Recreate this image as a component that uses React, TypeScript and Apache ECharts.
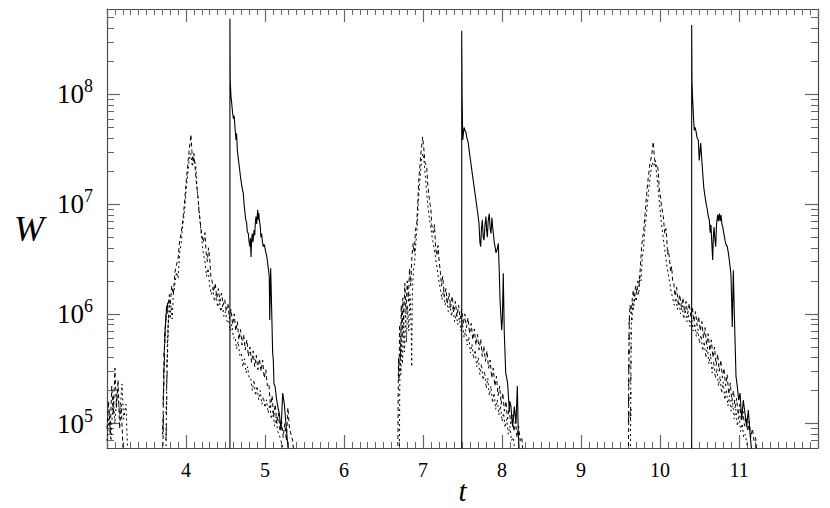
import React, { useEffect, useRef } from "react";
import * as echarts from "echarts";

// ---- data: [t, W] pairs ----
const solidEvent1: [number, number][] = [
  [4.556, 3e4], [4.556, 4.9e8], [4.56, 1.3e8], [4.57, 9.5e7], [4.578, 8.4e7], [4.591, 6.7e7], [4.6, 6.0e7], [4.61, 6.4e7],
  [4.62, 5.0e7], [4.633, 3.84e7], [4.64, 4.4e7], [4.65, 3.1e7], [4.662, 2.6e7], [4.675, 2.19e7], [4.692, 1.72e7], [4.705, 1.5e7],
  [4.715, 1.35e7], [4.725, 1.26e7], [4.735, 1.0e7], [4.747, 8.3e6], [4.755, 7.3e6], [4.768, 6.7e6], [4.776, 5.6e6], [4.789, 5.4e6],
  [4.797, 4.6e6], [4.81, 4.1e6], [4.816, 4.9e6], [4.823, 3.3e6], [4.83, 4.6e6], [4.839, 5.4e6], [4.848, 4.5e6], [4.861, 5.8e6],
  [4.87, 5.2e6], [4.878, 6.8e6], [4.886, 7.7e6], [4.895, 6.6e6], [4.908, 8.9e6], [4.915, 7.2e6], [4.921, 8.3e6], [4.928, 7.2e6],
  [4.94, 6.3e6], [4.948, 5.0e6], [4.958, 5.4e6], [4.966, 4.6e6], [4.978, 4.1e6], [4.99, 4.3e6], [5.009, 3.7e6], [5.02, 3.4e6],
  [5.029, 3.1e6], [5.042, 2.6e6], [5.054, 2.2e6], [5.06, 8.8e5], [5.072, 2.6e6], [5.08, 1.5e6], [5.097, 4.4e5], [5.105, 3.8e5],
  [5.114, 2.3e5], [5.127, 2.2e5], [5.148, 1.64e5], [5.165, 1.4e5], [5.181, 1.24e5], [5.203, 8.7e4], [5.224, 1.9e5], [5.245, 1.5e5],
  [5.26, 1.1e5], [5.275, 8.2e4], [5.296, 5.5e4],
];
const solidEvent2: [number, number][] = [
  [7.49, 3e4], [7.49, 3.8e8], [7.495, 1.0e8], [7.503, 3.84e7], [7.52, 5.0e7], [7.532, 4.7e7], [7.545, 4.5e7], [7.553, 4.1e7],
  [7.573, 3.6e7], [7.595, 2.7e7], [7.629, 1.78e7], [7.658, 1.26e7], [7.687, 8.9e6], [7.709, 6.7e6], [7.72, 4.5e6], [7.73, 4.1e6],
  [7.74, 6.0e6], [7.751, 7.2e6], [7.762, 5.0e6], [7.772, 4.7e6], [7.785, 6.5e6], [7.797, 7.7e6], [7.805, 5.8e6], [7.814, 5.0e6],
  [7.825, 7.0e6], [7.839, 8.2e6], [7.85, 6.0e6], [7.861, 5.4e6], [7.872, 7.5e6], [7.882, 6.2e6], [7.893, 5.2e6], [7.903, 4.4e6],
  [7.915, 4.0e6], [7.924, 3.6e6], [7.94, 3.9e6], [7.953, 4.4e6], [7.965, 2.5e6], [7.975, 1.34e6], [7.996, 7.1e5], [8.005, 9e5],
  [8.016, 2.34e6], [8.029, 6.7e5], [8.047, 2.9e5], [8.06, 2.6e5], [8.072, 2.3e5], [8.092, 1.33e5], [8.1, 1.6e5], [8.114, 1.43e5],
  [8.125, 1.1e5], [8.135, 9.4e4], [8.156, 1.43e5], [8.177, 1.0e5], [8.194, 2.2e5], [8.206, 8.2e4], [8.219, 5.5e4],
];
const solidEvent3: [number, number][] = [
  [10.401, 3e4], [10.401, 4.3e8], [10.405, 1.3e8], [10.414, 8.9e7], [10.425, 6e7], [10.434, 4.7e7], [10.445, 5.0e7], [10.456, 4.6e7],
  [10.47, 4.0e7], [10.485, 3.84e7], [10.497, 2.5e7], [10.515, 3.6e7], [10.528, 2.6e7], [10.541, 1.9e7], [10.555, 1.4e7], [10.57, 1.17e7],
  [10.585, 1.0e7], [10.599, 8.9e6], [10.61, 7.8e6], [10.624, 7.2e6], [10.635, 5.5e6], [10.645, 6.5e6], [10.654, 4.7e6], [10.667, 3.1e6],
  [10.675, 5.0e6], [10.684, 6.2e6], [10.693, 5.0e6], [10.705, 4.1e6], [10.715, 6.5e6], [10.73, 8.0e6], [10.74, 7.0e6], [10.751, 8.2e6],
  [10.762, 7.0e6], [10.772, 8.0e6], [10.785, 6.5e6], [10.794, 6.2e6], [10.81, 5.3e6], [10.823, 4.7e6], [10.835, 4.3e6], [10.852, 4.1e6],
  [10.865, 3.6e6], [10.877, 3.1e6], [10.89, 2.6e6], [10.899, 2.2e6], [10.915, 7.6e5], [10.928, 2.5e6], [10.941, 1.0e6], [10.962, 2.7e5],
  [10.978, 2.2e5], [10.996, 1.64e5], [11.013, 1.9e5], [11.034, 1.08e5], [11.054, 1.64e5], [11.076, 1.24e5], [11.097, 9.4e4], [11.118, 1.33e5],
  [11.139, 8.2e4], [11.161, 5.5e4],
];

const dashedBump: [number, number][] = [
  [3.0, 9e4], [3.02, 1.6e5], [3.04, 8e4], [3.06, 2.2e5], [3.08, 1.2e5], [3.1, 3.2e5], [3.12, 1.4e5], [3.14, 2.5e5],
  [3.16, 9e4], [3.18, 1.5e5], [3.2, 6.5e4], [3.22, 3e4],
];
const dottedBump: [number, number][] = [
  [3.0, 7e4], [3.03, 1.3e5], [3.05, 7e4], [3.08, 1.8e5], [3.1, 1e5], [3.13, 2.1e5], [3.16, 1.2e5], [3.19, 2.3e5],
  [3.21, 1.1e5], [3.24, 1.5e5], [3.26, 6e4], [3.28, 3e4],
];

const dashedEvent1: [number, number][] = [
  [3.70, 3e4], [3.715, 1.2e5], [3.705, 8e4], [3.72, 2.5e5], [3.71, 1.5e5], [3.728, 4e5], [3.715, 2.6e5], [3.735, 6.5e5],
  [3.72, 4e5], [3.745, 9e5], [3.728, 6e5], [3.755, 1.2e6], [3.74, 8e5], [3.77, 1.3e6], [3.76, 1.0e6], [3.79, 1.5e6],
  [3.8, 1.2e6], [3.82, 1.8e6], [3.84, 1.5e6], [3.86, 2.4e6], [3.88, 2.8e6], [3.9, 3.2e6], [3.92, 4.7e6], [3.94, 5.5e6],
  [3.96, 7.2e6], [3.98, 1.0e7], [4.0, 1.55e7], [4.02, 2.2e7], [4.04, 3.1e7], [4.063, 4.3e7], [4.075, 3.0e7], [4.09, 2.4e7],
  [4.1, 2.9e7], [4.115, 2.2e7], [4.13, 1.6e7], [4.15, 1.2e7], [4.165, 8.5e6], [4.18, 7.0e6], [4.2, 5.2e6], [4.22, 4.5e6],
  [4.24, 5.5e6], [4.255, 3.6e6], [4.27, 3.0e6], [4.285, 4.0e6], [4.3, 3.2e6], [4.315, 2.2e6], [4.33, 2.0e6], [4.35, 1.6e6],
  [4.37, 1.9e6], [4.39, 1.4e6], [4.41, 1.7e6], [4.43, 1.3e6], [4.45, 1.55e6], [4.47, 1.2e6], [4.49, 1.35e6], [4.51, 1.05e6],
  [4.53, 1.25e6], [4.55, 9e5], [4.57, 1.1e6], [4.59, 8e5], [4.61, 1.0e6], [4.63, 7e5], [4.65, 8.5e5], [4.67, 5.8e5],
  [4.69, 7.2e5], [4.71, 5.2e5], [4.73, 6.5e5], [4.75, 4.7e5], [4.77, 5.8e5], [4.79, 4.1e5], [4.81, 5.0e5], [4.83, 3.6e5],
  [4.85, 4.6e5], [4.87, 3.3e5], [4.89, 4.2e5], [4.91, 3.1e5], [4.93, 3.9e5], [4.95, 3.0e5], [4.97, 3.8e5], [4.99, 2.6e5],
  [5.01, 3.1e5], [5.03, 2.2e5], [5.05, 2.3e5], [5.07, 1.4e5], [5.09, 1.8e5], [5.11, 1.15e5], [5.13, 1.5e5], [5.15, 1.0e5],
  [5.17, 1.25e5], [5.19, 8.5e4], [5.21, 1.05e5], [5.23, 7.5e4], [5.25, 1.0e5], [5.27, 7e4], [5.29, 1.4e5], [5.31, 9e4],
  [5.33, 8e4], [5.35, 7e4], [5.37, 5e4],
];
const dottedEvent1: [number, number][] = [
  [3.74, 3e4], [3.752, 1.0e5], [3.745, 7e4], [3.758, 1.8e5], [3.748, 1.2e5], [3.762, 3.0e5], [3.752, 2.0e5], [3.768, 4.8e5],
  [3.757, 3.2e5], [3.775, 7e5], [3.762, 5e5], [3.782, 1.0e6], [3.77, 7e5], [3.79, 1.3e6], [3.8, 9e5], [3.81, 1.2e6],
  [3.825, 9e5], [3.84, 1.5e6], [3.86, 1.9e6], [3.88, 2.4e6], [3.9, 2.1e6], [3.92, 3.6e6], [3.94, 4.5e6], [3.96, 6.5e6],
  [3.98, 8.5e6], [4.0, 1.3e7], [4.02, 1.8e7], [4.04, 2.5e7], [4.06, 2.9e7], [4.08, 2.2e7], [4.1, 2.6e7], [4.125, 2.2e7],
  [4.14, 1.4e7], [4.16, 1.0e7], [4.18, 6.5e6], [4.2, 4.8e6], [4.22, 3.5e6], [4.24, 3.0e6], [4.26, 2.2e6], [4.28, 2.6e6],
  [4.3, 1.8e6], [4.32, 1.5e6], [4.34, 1.7e6], [4.36, 1.3e6], [4.38, 1.5e6], [4.4, 1.15e6], [4.42, 1.35e6], [4.44, 1.05e6],
  [4.46, 1.2e6], [4.48, 9.5e5], [4.5, 1.05e6], [4.52, 8.5e5], [4.54, 8.8e5], [4.56, 7e5], [4.58, 8e5], [4.6, 6.0e5],
  [4.62, 6.2e5], [4.64, 4.8e5], [4.66, 5.6e5], [4.68, 4.2e5], [4.7, 4.4e5], [4.72, 3.3e5], [4.74, 3.9e5], [4.76, 2.9e5],
  [4.78, 3.3e5], [4.8, 2.6e5], [4.82, 2.6e5], [4.84, 2.0e5], [4.86, 2.5e5], [4.88, 1.8e5], [4.9, 2.2e5], [4.92, 1.65e5],
  [4.94, 2.0e5], [4.96, 1.5e5], [4.98, 1.75e5], [5.0, 1.4e5], [5.02, 1.65e5], [5.04, 1.25e5], [5.06, 1.5e5], [5.08, 1.1e5],
  [5.1, 1.3e5], [5.12, 9.5e4], [5.14, 1.15e5], [5.16, 8.5e4], [5.18, 8e4], [5.2, 7e4], [5.22, 6.5e4], [5.24, 4e4],
];

const dashedEvent2: [number, number][] = [
  [6.68, 3e4], [6.685, 1.5e5], [6.69, 4e5], [6.695, 2.5e5], [6.705, 8e5], [6.715, 4e5], [6.725, 1.2e6], [6.735, 6e5],
  [6.745, 1.4e6], [6.755, 8e5], [6.77, 1.9e6], [6.785, 1.0e6], [6.8, 2.0e6], [6.815, 1.3e6], [6.83, 2.6e6], [6.845, 1.8e6],
  [6.86, 3.4e6], [6.875, 4.4e6], [6.89, 3.6e6], [6.905, 5.8e6], [6.92, 6.5e6], [6.93, 9e6], [6.945, 1.6e7], [6.96, 2.2e7],
  [6.975, 3.0e7], [6.996, 4.1e7], [7.01, 3.2e7], [7.025, 2.4e7], [7.047, 2.2e7], [7.06, 1.5e7], [7.075, 1.2e7], [7.089, 1.0e7],
  [7.1, 9e6], [7.11, 6.5e6], [7.13, 5.5e6], [7.145, 6.5e6], [7.16, 4.0e6], [7.175, 3.4e6], [7.19, 4.2e6], [7.205, 3.0e6],
  [7.22, 2.4e6], [7.235, 1.8e6], [7.25, 2.2e6], [7.27, 1.45e6], [7.29, 1.7e6], [7.31, 1.25e6], [7.33, 1.55e6], [7.35, 1.15e6],
  [7.37, 1.45e6], [7.39, 1.05e6], [7.41, 1.3e6], [7.43, 9.5e5], [7.45, 1.2e6], [7.47, 9e5], [7.49, 1.1e6], [7.51, 8e5],
  [7.53, 1.0e6], [7.55, 7.5e5], [7.57, 9.2e5], [7.59, 6.6e5], [7.61, 8.2e5], [7.63, 5.8e5], [7.65, 7.3e5], [7.67, 5.2e5],
  [7.69, 6.5e5], [7.71, 4.7e5], [7.73, 5.9e5], [7.75, 4.1e5], [7.77, 5.1e5], [7.79, 3.7e5], [7.81, 4.6e5], [7.83, 3.2e5],
  [7.85, 3.8e5], [7.87, 2.6e5], [7.89, 3.2e5], [7.91, 2.2e5], [7.93, 2.7e5], [7.95, 1.8e5], [7.97, 2.2e5], [7.99, 1.5e5],
  [8.01, 1.9e5], [8.03, 1.3e5], [8.05, 1.6e5], [8.07, 1.1e5], [8.09, 1.4e5], [8.11, 1.0e5], [8.13, 1.2e5], [8.15, 8.5e4],
  [8.17, 1.05e5], [8.19, 7.5e4], [8.21, 9.5e4], [8.23, 7e4], [8.25, 7.5e4], [8.27, 5e4],
];
const dottedEvent2: [number, number][] = [
  [6.70, 3e4], [6.705, 1.8e5], [6.71, 4.5e5], [6.72, 2.8e5], [6.73, 6e5], [6.74, 3.5e5], [6.755, 8e5], [6.765, 4.5e5],
  [6.78, 1.0e6], [6.79, 5.5e5], [6.805, 1.2e6], [6.82, 7e5], [6.835, 1.5e6], [6.85, 8e5], [6.857, 3.3e5], [6.865, 1.6e6],
  [6.88, 2.5e6], [6.895, 3.0e6], [6.91, 4.5e6], [6.925, 6.0e6], [6.94, 1.0e7], [6.955, 1.5e7], [6.97, 2.0e7], [6.985, 2.6e7],
  [7.0, 2.9e7], [7.015, 2.4e7], [7.03, 1.8e7], [7.045, 1.3e7], [7.06, 1.0e7], [7.08, 7.5e6], [7.1, 6.0e6], [7.12, 4.8e6],
  [7.14, 4.0e6], [7.16, 3.2e6], [7.18, 2.6e6], [7.2, 2.0e6], [7.22, 1.7e6], [7.24, 1.35e6], [7.26, 1.65e6], [7.28, 1.2e6],
  [7.3, 1.4e6], [7.32, 1.05e6], [7.34, 1.25e6], [7.36, 9.5e5], [7.38, 1.15e6], [7.4, 8.5e5], [7.42, 1.0e6], [7.44, 8e5],
  [7.46, 9.2e5], [7.48, 7e5], [7.5, 8.2e5], [7.52, 6.1e5], [7.54, 7.2e5], [7.56, 5.2e5], [7.58, 6.2e5], [7.6, 4.4e5],
  [7.62, 5.3e5], [7.64, 3.9e5], [7.66, 4.7e5], [7.68, 3.3e5], [7.7, 4.0e5], [7.72, 2.8e5], [7.74, 3.5e5], [7.76, 2.5e5],
  [7.78, 3.0e5], [7.8, 2.1e5], [7.82, 2.6e5], [7.84, 1.8e5], [7.86, 2.2e5], [7.88, 1.55e5], [7.9, 1.9e5], [7.92, 1.35e5],
  [7.94, 1.65e5], [7.96, 1.2e5], [7.98, 1.45e5], [8.0, 1.05e5], [8.02, 1.25e5], [8.04, 9.2e4], [8.06, 1.1e5], [8.08, 8e4],
  [8.1, 9.5e4], [8.12, 7e4], [8.14, 7.5e4], [8.16, 6e4], [8.18, 4e4],
];

const dashedEvent3: [number, number][] = [
  [9.6, 3e4], [9.602, 8e4], [9.606, 1.3e5], [9.6, 1.0e5], [9.606, 1.8e5], [9.601, 1.5e5], [9.607, 2.5e5], [9.602, 2.2e5],
  [9.608, 3.5e5], [9.603, 3.0e5], [9.609, 4.8e5], [9.604, 4.2e5], [9.611, 6.5e5], [9.606, 5.8e5], [9.613, 9e5], [9.609, 8e5],
  [9.62, 1.2e6], [9.635, 1.0e6], [9.65, 1.4e6], [9.662, 1.65e6], [9.675, 1.3e6], [9.69, 1.8e6], [9.705, 1.55e6], [9.72, 2.0e6],
  [9.735, 1.8e6], [9.75, 2.6e6], [9.768, 4.1e6], [9.78, 5.0e6], [9.79, 5.4e6], [9.81, 8e6], [9.832, 1.26e7], [9.85, 1.7e7],
  [9.873, 2.35e7], [9.895, 2.8e7], [9.915, 3.7e7], [9.93, 2.6e7], [9.95, 2.2e7], [9.965, 2.3e7], [9.978, 2.0e7], [9.99, 1.4e7],
  [10.0, 1.26e7], [10.02, 9.5e6], [10.042, 7.7e6], [10.06, 5.4e6], [10.075, 6.0e6], [10.085, 5.0e6], [10.095, 3.5e6], [10.105, 3.8e6],
  [10.12, 3.2e6], [10.135, 2.4e6], [10.148, 2.7e6], [10.16, 2.0e6], [10.175, 1.9e6], [10.19, 1.45e6], [10.21, 1.75e6], [10.23, 1.25e6],
  [10.25, 1.5e6], [10.27, 1.15e6], [10.29, 1.4e6], [10.31, 1.05e6], [10.33, 1.3e6], [10.35, 1.0e6], [10.37, 1.25e6], [10.39, 9.5e5],
  [10.41, 1.15e6], [10.43, 8.5e5], [10.45, 1.05e6], [10.47, 7.8e5], [10.49, 9.5e5], [10.51, 7e5], [10.53, 8.5e5], [10.55, 6e5],
  [10.57, 7.5e5], [10.59, 5.2e5], [10.61, 6.6e5], [10.63, 4.6e5], [10.65, 5.8e5], [10.67, 4.0e5], [10.69, 5.0e5], [10.71, 3.4e5],
  [10.73, 4.3e5], [10.75, 3.0e5], [10.77, 3.8e5], [10.79, 2.6e5], [10.81, 3.2e5], [10.83, 2.2e5], [10.85, 2.8e5], [10.87, 1.85e5],
  [10.89, 2.35e5], [10.91, 1.6e5], [10.93, 2.0e5], [10.95, 1.4e5], [10.97, 1.7e5], [10.99, 1.2e5], [11.01, 1.5e5], [11.03, 1.05e5],
  [11.05, 1.3e5], [11.07, 9.5e4], [11.09, 1.15e5], [11.11, 8.5e4], [11.13, 1.05e5], [11.15, 7.5e4], [11.17, 9e4], [11.19, 7e4],
  [11.21, 7.5e4], [11.23, 5e4],
];
const dottedEvent3: [number, number][] = [
  [9.625, 3e4], [9.627, 9e4], [9.632, 1.4e5], [9.626, 1.1e5], [9.632, 2.0e5], [9.627, 1.7e5], [9.633, 2.8e5], [9.628, 2.4e5],
  [9.634, 3.8e5], [9.629, 3.3e5], [9.636, 5.2e5], [9.631, 4.6e5], [9.638, 7e5], [9.633, 6.3e5], [9.64, 9.5e5], [9.645, 8.5e5],
  [9.655, 1.3e6], [9.665, 1.1e6], [9.68, 1.5e6], [9.7, 1.3e6], [9.715, 1.7e6], [9.73, 1.5e6], [9.745, 2.2e6], [9.76, 2.0e6],
  [9.775, 3.2e6], [9.79, 3.8e6], [9.805, 5.5e6], [9.82, 7e6], [9.84, 1.0e7], [9.86, 1.4e7], [9.88, 1.9e7], [9.9, 2.4e7],
  [9.92, 2.2e7], [9.94, 2.5e7], [9.96, 1.8e7], [9.98, 1.3e7], [10.0, 9e6], [10.02, 6.5e6], [10.04, 5e6], [10.06, 3.8e6],
  [10.08, 3.0e6], [10.1, 2.4e6], [10.12, 2.0e6], [10.14, 1.6e6], [10.16, 1.4e6], [10.18, 1.2e6], [10.2, 1.4e6], [10.22, 1.1e6],
  [10.24, 1.3e6], [10.26, 1.0e6], [10.28, 1.2e6], [10.3, 9e5], [10.32, 1.1e6], [10.34, 8.5e5], [10.36, 1.0e6], [10.38, 7.7e5],
  [10.4, 9e5], [10.42, 7e5], [10.44, 8.2e5], [10.46, 6.2e5], [10.48, 7.3e5], [10.5, 5.4e5], [10.52, 6.4e5], [10.54, 4.6e5],
  [10.56, 5.6e5], [10.58, 4.0e5], [10.6, 5.0e5], [10.62, 3.5e5], [10.64, 4.3e5], [10.66, 2.9e5], [10.68, 3.7e5], [10.7, 2.6e5],
  [10.72, 3.2e5], [10.74, 2.2e5], [10.76, 2.7e5], [10.78, 1.9e5], [10.8, 2.4e5], [10.82, 1.65e5], [10.84, 2.05e5], [10.86, 1.45e5],
  [10.88, 1.8e5], [10.9, 1.3e5], [10.92, 1.55e5], [10.94, 1.1e5], [10.96, 1.35e5], [10.98, 9.5e4], [11.0, 1.2e5], [11.02, 8.5e4],
  [11.04, 1.0e5], [11.06, 7.5e4], [11.08, 8e4], [11.1, 6.5e4], [11.12, 4e4],
];

// ---- axes ----
const xMin = 3;
const xMax = 12;
const yMin = 6e4;
const yMax = 6e8;
const yMajorTicks = [1e5, 1e6, 1e7, 1e8];
const yMinorTicks = [
  7e4, 8e4, 9e4,
  2e5, 3e5, 4e5, 5e5, 6e5, 7e5, 8e5, 9e5,
  2e6, 3e6, 4e6, 5e6, 6e6, 7e6, 8e6, 9e6,
  2e7, 3e7, 4e7, 5e7, 6e7, 7e7, 8e7, 9e7,
  2e8, 3e8, 4e8, 5e8,
];

const FONT = "'Liberation Serif', 'DejaVu Serif', serif";
const AXIS_COLOR = "#4a4a4a";
const TICK_COLOR = "#666";

export default function App() {
  const ref = useRef<HTMLDivElement>(null);

  useEffect(() => {
    if (!ref.current) return;
    const chart = echarts.init(ref.current, undefined, { renderer: "svg" });

    const makeSeries = (list: [number, number][][], lineType: any, width: number, z: number) =>
      list.map((d) => ({
        type: "line",
        data: d,
        showSymbol: false,
        symbol: "none",
        clip: true,
        lineStyle: { color: "#000", width, type: lineType },
        xAxisIndex: 0,
        yAxisIndex: 0,
        z,
      }));

    const solidSeries = makeSeries([solidEvent1, solidEvent2, solidEvent3], "solid", 1.1, 3);
    const dashedSeries = makeSeries([dashedBump, dashedEvent1, dashedEvent2, dashedEvent3], [4, 3], 1, 2);
    const dottedSeries = makeSeries([dottedBump, dottedEvent1, dottedEvent2, dottedEvent3], [2, 3], 1, 2);

    const xCommon = {
      type: "value",
      min: xMin,
      max: xMax,
      interval: 1,
      splitLine: { show: false },
      axisLine: { show: true, onZero: false, lineStyle: { color: AXIS_COLOR, width: 1.2 } },
      axisTick: { show: true, inside: true, length: 13, lineStyle: { color: TICK_COLOR, width: 1.2 } },
      minorTick: { show: true, splitNumber: 10, length: 6, lineStyle: { color: TICK_COLOR, width: 1 } },
      minorSplitLine: { show: false },
    };

    const yCommon = {
      type: "log",
      logBase: 10,
      min: yMin,
      max: yMax,
      splitLine: { show: false },
      minorSplitLine: { show: false },
      axisLine: { show: true, onZero: false, lineStyle: { color: AXIS_COLOR, width: 1.2 } },
    };

    const option: any = {
      animation: false,
      backgroundColor: "#fff",
      grid: { left: 107, right: 12, top: 9, bottom: 60, containLabel: false, outerBoundsMode: "none" },
      xAxis: [
        {
          ...xCommon,
          position: "bottom",
          name: "t",
          nameLocation: "middle",
          nameGap: 32,
          nameMoveOverlap: false,
          nameTextStyle: { fontFamily: FONT, fontStyle: "italic", fontSize: 29, lineHeight: 22, color: "#000" },
          axisLabel: {
            show: true,
            margin: 12,
            fontFamily: FONT,
            fontSize: 20,
            color: "#000",
            formatter: (v: number) => (v === xMin || v === xMax ? "" : String(v)),
          },
        },
        {
          ...xCommon,
          position: "top",
          axisLabel: { show: false },
        },
      ],
      yAxis: [
        {
          ...yCommon,
          position: "left",
          name: "W",
          nameLocation: "middle",
          nameRotate: 0,
          nameGap: 63,
          nameMoveOverlap: false,
          nameTextStyle: { fontFamily: FONT, fontStyle: "italic", fontSize: 36, color: "#000" },
          axisTick: { show: true, inside: true, length: 13, customValues: yMajorTicks, lineStyle: { color: TICK_COLOR, width: 1.2 } },
          axisLabel: {
            show: true,
            customValues: yMajorTicks,
            margin: 14,
            color: "#000",
            fontFamily: FONT,
            fontSize: 27,
            formatter: (v: number) => `10{s|${Math.round(Math.log10(v))}}`,
            rich: {
              s: { fontFamily: FONT, fontSize: 18, color: "#000", padding: [0, 0, 16, 0] },
            },
          },
        },
        {
          ...yCommon,
          position: "left",
          axisLine: { show: false },
          axisTick: { show: true, inside: true, length: 7, customValues: yMinorTicks, lineStyle: { color: TICK_COLOR, width: 1 } },
          axisLabel: { show: false },
        },
        {
          ...yCommon,
          position: "right",
          axisTick: { show: true, inside: true, length: 13, customValues: yMajorTicks, lineStyle: { color: TICK_COLOR, width: 1.2 } },
          axisLabel: { show: false, customValues: yMajorTicks },
        },
        {
          ...yCommon,
          position: "right",
          axisLine: { show: false },
          axisTick: { show: true, inside: true, length: 7, customValues: yMinorTicks, lineStyle: { color: TICK_COLOR, width: 1 } },
          axisLabel: { show: false },
        },
      ],
      series: [...dottedSeries, ...dashedSeries, ...solidSeries],
    };

    chart.setOption(option);
    return () => chart.dispose();
  }, []);

  return (
    <div
      ref={ref}
      style={{ position: "fixed", left: 0, top: 0, width: 830, height: 508, background: "#fff" }}
    />
  );
}
